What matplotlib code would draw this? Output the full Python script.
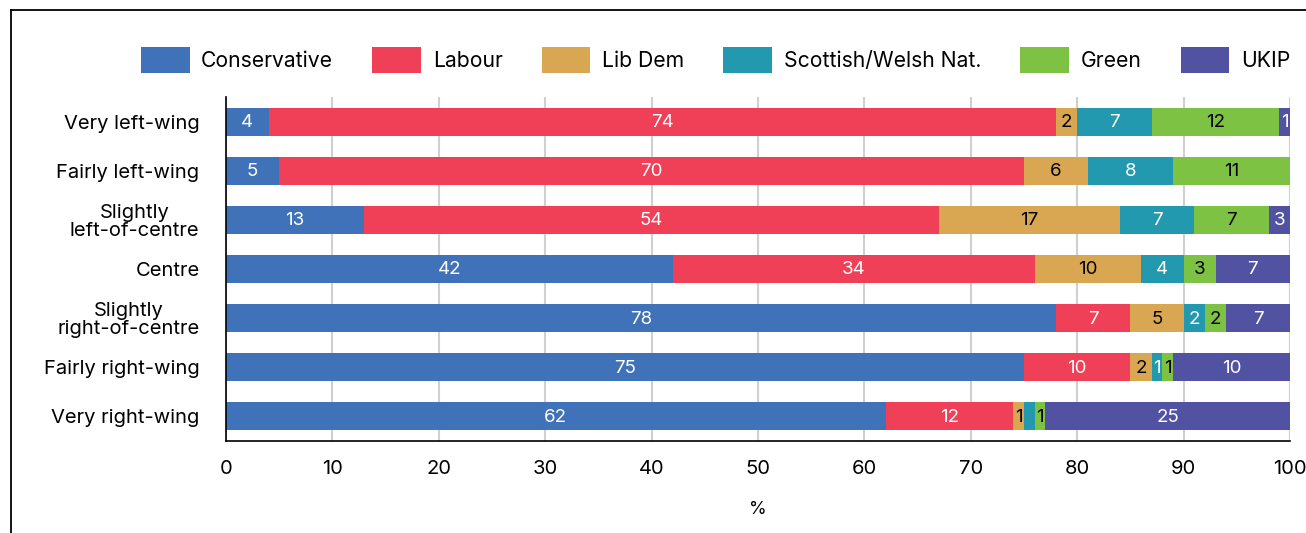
import matplotlib
matplotlib.use('Agg')
import numpy as np
import matplotlib.pyplot as plt
from matplotlib.lines import Line2D

# data
groups = ['Very left-wing', 'Fairly left-wing', 'Slightly\nleft-of-centre', 'Centre',
          'Slightly\nright-of-centre', 'Fairly right-wing', 'Very right-wing']
parties = ['Conservative', 'Labour', 'Lib Dem', 'Scottish/Welsh Nat.', 'Green', 'UKIP']

# bar widths as drawn (%)
conservative = [4, 5, 13, 42, 78, 75, 62]
labour = [74, 70, 54, 34, 7, 10, 12]
lib_dem = [2, 6, 17, 10, 5, 2, 1]
nationalist = [7, 8, 7, 4, 2, 1, 1]
green = [12, 11, 7, 3, 2, 1, 1]
ukip = [1, 0, 3, 7, 7, 11, 25]

# printed labels (None = not shown)
lab_conservative = ['4', '5', '13', '42', '78', '75', '62']
lab_labour = ['74', '70', '54', '34', '7', '10', '12']
lab_lib_dem = ['2', '6', '17', '10', '5', '2', '1']
lab_nationalist = ['7', '8', '7', '4', '2', '1', None]
lab_green = ['12', '11', '7', '3', '2', '1', '1']
lab_ukip = ['1', None, '3', '7', '7', '10', '25']

colors = ['#3f72b8', '#ef4057', '#d9a752', '#2399b0', '#7dc242', '#5252a3']
text_colors = ['white', 'white', 'black', 'white', 'black', 'white']

series = [conservative, labour, lib_dem, nationalist, green, ukip]
labels = [lab_conservative, lab_labour, lab_lib_dem, lab_nationalist, lab_green, lab_ukip]

plt.rcParams['font.family'] = ['Inter', 'DejaVu Sans']

fig = plt.figure(figsize=(13.06, 5.33), dpi=100)
ax = fig.add_axes([226/1306, 1 - 441/533, 1064/1306, 344/533])

y = np.arange(len(groups))
left = np.zeros(len(groups))
for vals, labs, col, tcol, name in zip(series, labels, colors, text_colors, parties):
    vals = np.array(vals, dtype=float)
    ax.barh(y, vals, left=left, height=0.57, color=col, label=name, zorder=2)
    for i in range(len(groups)):
        if labs[i] is None or vals[i] == 0:
            continue
        a = left[i]
        b = min(left[i] + vals[i], 100)
        ax.text((a + b) / 2, y[i] + 0.02, labs[i], ha='center', va='center',
                color=tcol, fontsize=13.5, zorder=3)
    left = left + vals

ax.set_xlim(0, 100)
ax.set_ylim(6.5, -0.5)
ax.set_yticks(y)
ax.set_yticklabels(groups, fontsize=14.5, multialignment='center', linespacing=1.0)
ax.set_xticks(range(0, 101, 10))
ax.tick_params(axis='both', length=0, labelsize=14.5)
ax.tick_params(axis='y', pad=19)
ax.tick_params(axis='x', pad=14)
ax.grid(axis='x', color='#d0d0d0', linewidth=1.5, zorder=0)
ax.set_axisbelow(True)
for s in ['top', 'right']:
    ax.spines[s].set_visible(False)
for s in ['left', 'bottom']:
    ax.spines[s].set_color('black')
    ax.spines[s].set_linewidth(1.2)
ax.set_xlabel('%', fontsize=13, labelpad=16)

fig.legend(loc='center left', ncol=6, mode='expand', frameon=False,
           bbox_to_anchor=(141/1306, 1 - 60/533, 1149/1306, 0.0),
           fontsize=15.2, handlelength=2.3, handleheight=1.5,
           handletextpad=0.55, borderpad=0, borderaxespad=0)

# outer frame
fig.add_artist(Line2D([10.5/1306, 1], [1 - 9.5/533, 1 - 9.5/533], color='black', linewidth=1.3))
fig.add_artist(Line2D([10.5/1306, 10.5/1306], [0, 1 - 9.5/533], color='black', linewidth=1.3))

fig.savefig('out.png', dpi=100)
